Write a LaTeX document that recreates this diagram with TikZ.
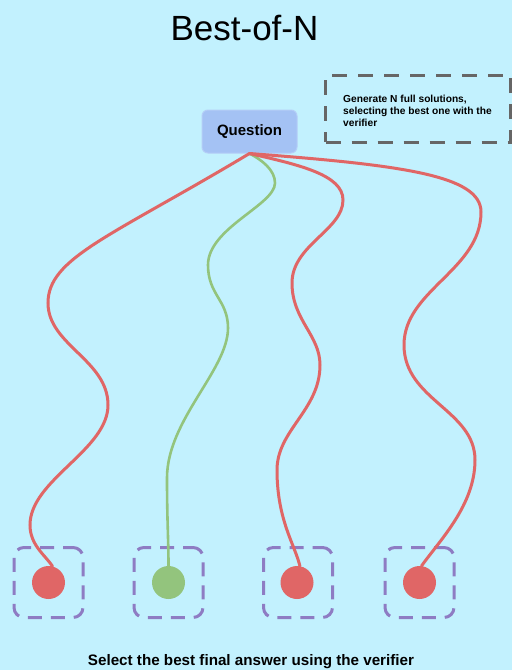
\documentclass[tikz,border=0pt]{standalone}
\usepackage{fontspec}
\setmainfont{Liberation Sans}
\definecolor{bgcol}{RGB}{194,241,254}
\definecolor{qfill}{RGB}{164,194,244}
\definecolor{qline}{RGB}{180,205,247}
\definecolor{redc}{RGB}{224,102,102}
\definecolor{greenc}{RGB}{147,196,125}
\definecolor{purplec}{RGB}{142,124,195}
\definecolor{grayc}{RGB}{102,102,102}
\tikzset{
  qbox/.style={draw=qline, line width=1pt, fill=qfill, rounded corners=6pt,
    minimum width=95pt, minimum height=43pt, inner sep=0pt,
    font=\fontsize{15}{18}\selectfont\bfseries},
  notebox/.style={draw=grayc, line width=3pt, dash pattern=on 15pt off 11pt,
    dash phase=0pt, minimum width=185pt, minimum height=67pt, inner sep=0pt},
  notetext/.style={align=left, inner sep=0pt,
    font=\fontsize{10.2}{12}\selectfont\bfseries},
  ansbox/.style={draw=purplec, line width=3pt, dash pattern=on 14pt off 9pt,
    dash phase=4pt, rounded corners=10pt, minimum width=69pt,
    minimum height=70pt, inner sep=0pt},
  dot/.style={circle, minimum size=33pt, inner sep=0pt},
  wrong/.style={draw=redc, line width=3pt, line cap=round},
  right/.style={draw=greenc, line width=2.6pt, line cap=round},
}
\begin{document}
\begin{tikzpicture}[x=1pt, y=-1pt]
\fill[bgcol] (0,0) rectangle (512,670);
\useasboundingbox (0,0) rectangle (512,670);

% title
\node[anchor=base, inner sep=0pt, font=\fontsize{35}{40}\selectfont] (title) at (244.5,40) {Best-of-N};

% question and note
\node[qbox] (q) at (249.5,131.5) {Question};
\node[notebox] (note) at (418,108.5) {};
\node[notetext, anchor=west] (nt) at (343,111) {Generate N full solutions,\\selecting the best one with the\\verifier};

% answer candidates
\foreach \i/\x in {1/48.5,2/168.5,3/298,4/419.5}{
  \node[ansbox] (b\i) at (\x,582.5) {};
}
\node[dot, fill=redc] (c1) at (48.5,582.5) {};
\node[dot, fill=greenc] (c2) at (168.5,582.5) {};
\node[dot, fill=redc] (c3) at (297,582.5) {};
\node[dot, fill=redc] (c4) at (419.5,582.5) {};

% reasoning paths
\draw[wrong] (q.south)
  .. controls (110,237) and (48,258) .. (48,303)
  .. controls (48,345) and (108,360) .. (108,405)
  .. controls (108,450) and (30,480) .. (30,525)
  .. controls (30,545) and (45,555) .. (c1.76);
\draw[right] (q.south)
  .. controls (262,160) and (275,170) .. (275,183)
  .. controls (275,205) and (208,228) .. (208,265)
  .. controls (208,295) and (228,300) .. (228,328)
  .. controls (228,370) and (167,420) .. (167,478)
  .. controls (167,520) and (168.5,540) .. (c2.north);
\draw[wrong] (q.south)
  .. controls (300,165) and (343,175) .. (343,200)
  .. controls (343,230) and (292,245) .. (292,283)
  .. controls (292,320) and (320,335) .. (320,365)
  .. controls (320,410) and (277,430) .. (277,470)
  .. controls (277,520) and (295,545) .. (c3.80);
\draw[wrong] (q.south)
  .. controls (400,165) and (481,175) .. (481,212)
  .. controls (481,270) and (404,290) .. (404,345)
  .. controls (404,400) and (475,410) .. (475,460)
  .. controls (475,505) and (440,540) .. (c4.83);

% caption
\node[anchor=base, inner sep=0pt, font=\fontsize{15.2}{18}\selectfont\bfseries] (cap) at (251,665) {Select the best final answer using the verifier};
\end{tikzpicture}
\end{document}
